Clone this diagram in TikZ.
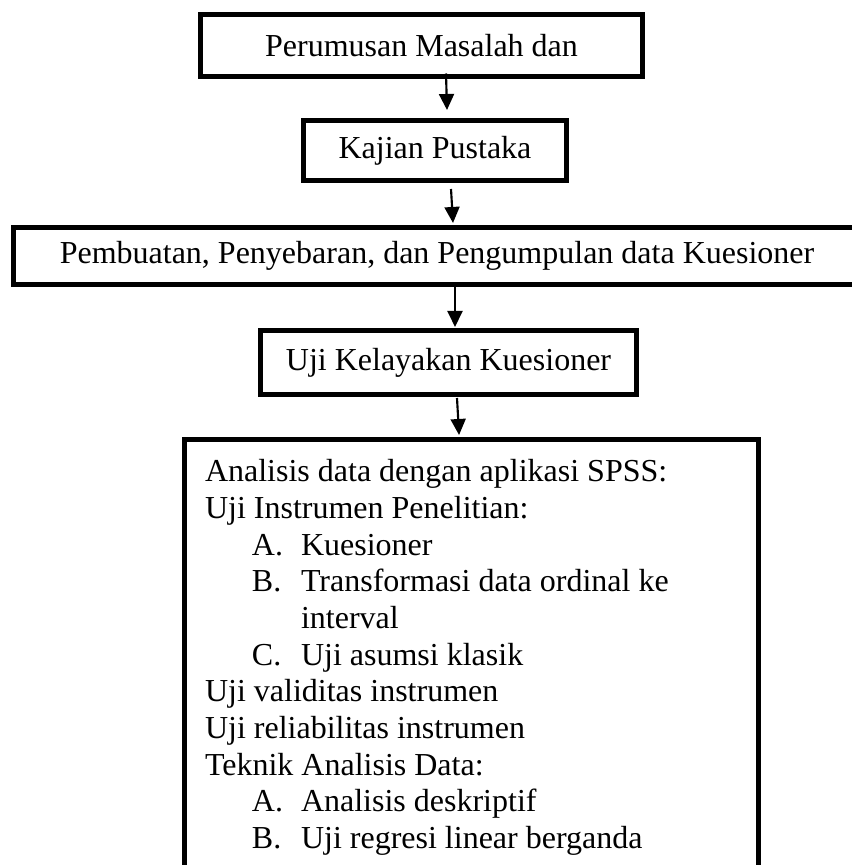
\documentclass[tikz,border=0pt]{standalone}
\usepackage{fontspec}
\setmainfont{Liberation Serif}
\usetikzlibrary{positioning,calc,arrows.meta}

\newcommand{\butir}[1]{\hspace*{17.6pt}\makebox[18.4pt][l]{#1}}

\begin{document}
\begin{tikzpicture}[
    x=0.375pt, y=-0.375pt,
    every node/.style={
        draw,
        line width=1.8pt,
        font=\fontsize{12pt}{13.76pt}\selectfont,
        inner sep=0pt,
        outer sep=0pt
    },
    arr/.style={
        line width=0.8pt,
        -{Triangle[length=6pt,width=5.6pt]}
    }
]

\useasboundingbox (0,0) rectangle (851,865);

\node[minimum width=165.75pt, minimum height=23.25pt] (rumusan) at (421.5,45.5) {Perumusan Masalah dan};
\node[minimum width=98.6pt, minimum height=22.5pt] (kajian) at (435,150.5) {Kajian Pustaka};
\node[minimum width=317.6pt, minimum height=21.4pt] (kuesioner) at (437,256) {Pembuatan, Penyebaran, dan Pengumpulan data Kuesioner};
\node[minimum width=141pt, minimum height=24pt] (uji) at (448.5,362.5) {Uji Kelayakan Kuesioner};

\node[anchor=north west, inner xsep=7.7pt, inner ysep=7.5pt] (analisis) at (184.5,439.5) {\parbox[t][170pt][t]{199.9pt}{%
Analisis data dengan aplikasi SPSS:\\
Uji Instrumen Penelitian:\\
\butir{A.}Kuesioner\\
\butir{B.}Transformasi data ordinal ke\\
\hspace*{36pt}interval\\
\butir{C.}Uji asumsi klasik\\
Uji validitas instrumen\\
Uji reliabilitas instrumen\\
Teknik Analisis Data:\\
\butir{A.}Analisis deskriptif\\
\butir{B.}Uji regresi linear berganda}};

\draw[arr] ($(rumusan.south)+(24.5,-3)$) -- ($(kajian.north)+(12,-10.5)$);
\draw[arr] ($(kajian.south)+(16,8.5)$) -- ($(kuesioner.north)+(16,-4.5)$);
\draw[arr] ($(kuesioner.south)+(18,2.5)$) -- ($(uji.north)+(6.5,-3.5)$);
\draw[arr] ($(uji.south)+(8.5,3.5)$) -- ($(analisis.north)+(-12.5,-4.5)$);

\end{tikzpicture}
\end{document}
